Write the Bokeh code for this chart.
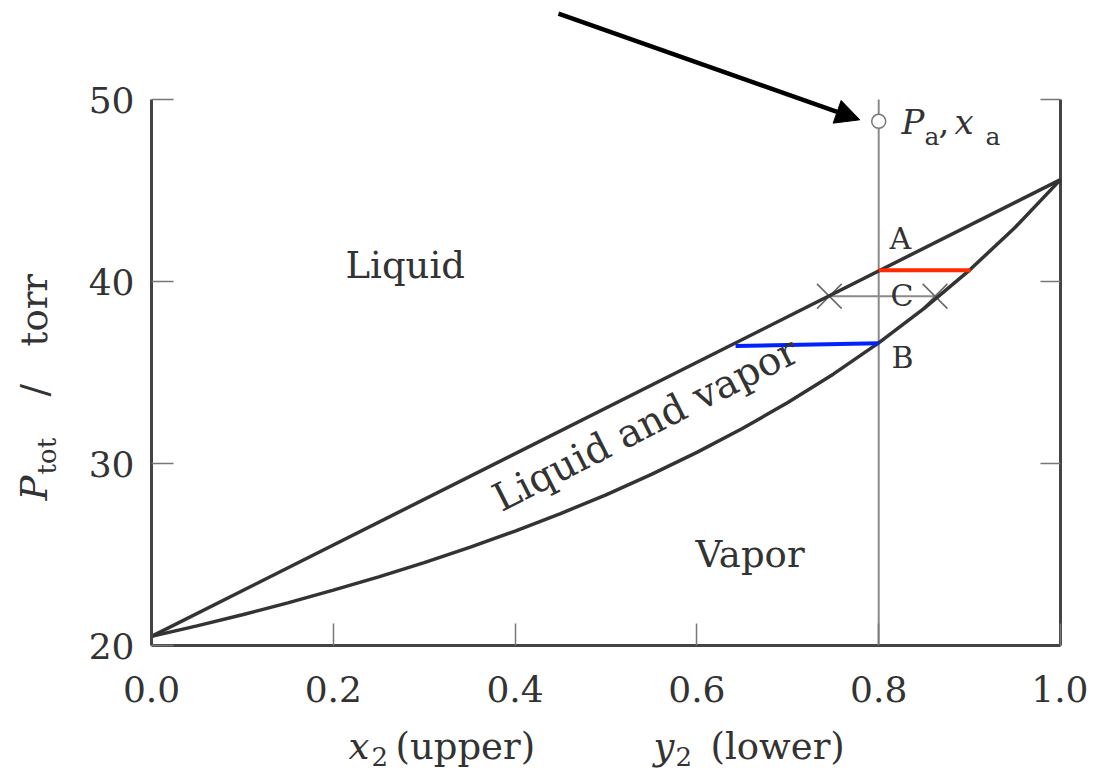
import math
from bokeh.plotting import figure
from bokeh.models import Range1d, FixedTicker, Label, Arrow, NormalHead, PrintfTickFormatter
from bokeh.embed import file_html
from bokeh.resources import INLINE

# ---------------- data ----------------
# liquid (bubble) line: P_tot vs x2
x_liquid = [0.0, 1.0]
p_liquid = [20.5, 45.6]
# vapor (dew) line: P_tot vs y2
y_vapor = [0.0, 0.05, 0.10, 0.15, 0.20, 0.25, 0.30, 0.35, 0.40, 0.45, 0.50,
           0.55, 0.60, 0.65, 0.70, 0.75, 0.80, 0.85, 0.90, 0.95, 1.0]
p_vapor = [20.5, 21.08, 21.69, 22.34, 23.04, 23.77, 24.55, 25.39, 26.29, 27.25, 28.28,
           29.40, 30.61, 31.92, 33.35, 34.91, 36.63, 38.52, 40.63, 42.97, 45.6]
# composition line and starting point a
x_a = [0.8]
p_a = [48.8]
vline_p = [20.0, 50.0]
# tie lines
tie_A_x = [0.8, 0.901]
tie_A_p = [40.62, 40.62]
tie_B_x = [0.6425, 0.8]
tie_B_p = [36.45, 36.61]
tie_C_x = [0.7457, 0.862]
tie_C_p = [39.19, 39.19]
# ticks
x_ticks = [0.0, 0.2, 0.4, 0.6, 0.8, 1.0]
y_ticks = [20, 30, 40, 50]
y_ticks_right = [30, 40, 50]
x_bounds = (0.0, 1.0)
y_bounds = (20, 50)

FONT = "DejaVu Serif"
TXT = "#333333"
CURVE = "#333333"
AXIS = "#444444"
TICK = "#777777"

X0, X1 = -0.16612, 1.03080
Y0, Y1 = 12.967, 55.44
W, H = 1088, 773
PX_X = W / (X1 - X0)   # pixels per x unit
PX_Y = H / (Y1 - Y0)   # pixels per y unit

# frame covers the whole canvas; axes are pinned with fixed_location
p = figure(width=W, height=H, title=None,
           x_range=Range1d(X0, X1), y_range=Range1d(Y0, Y1),
           output_backend="svg", toolbar_location=None, min_border=0)
p.grid.visible = False
p.outline_line_color = None
p.background_fill_color = "white"
p.border_fill_color = "white"

# bottom axis
xa = p.xaxis[0]
xa.fixed_location = y_bounds[0]
xa.bounds = x_bounds
xa.ticker = FixedTicker(ticks=x_ticks)
xa.formatter = PrintfTickFormatter(format="%.1f")
xa.axis_line_width = 3
xa.axis_line_color = AXIS
xa.major_tick_in = 22
xa.major_tick_out = 0
xa.major_tick_line_color = TICK
xa.major_tick_line_width = 1.5
xa.minor_tick_line_color = None
xa.major_label_text_font = FONT
xa.major_label_text_font_size = "36px"
xa.major_label_text_color = TXT
xa.major_label_standoff = 30

# left axis
ya = p.yaxis[0]
ya.fixed_location = x_bounds[0]
ya.bounds = y_bounds
ya.ticker = FixedTicker(ticks=y_ticks)
ya.formatter = PrintfTickFormatter(format="%d")
ya.axis_line_width = 3
ya.axis_line_color = AXIS
ya.major_tick_in = 22
ya.major_tick_out = 0
ya.major_tick_line_color = TICK
ya.major_tick_line_width = 1.5
ya.minor_tick_line_color = None
ya.major_label_text_font = FONT
ya.major_label_text_font_size = "36px"
ya.major_label_text_color = TXT
ya.major_label_standoff = 17

# right frame line and its inward ticks
p.line([x_bounds[1], x_bounds[1]], list(y_bounds), line_width=3, color=AXIS)
tick_len = 20 / PX_X
p.segment(x0=[x_bounds[1]] * len(y_ticks_right), y0=y_ticks_right,
          x1=[x_bounds[1] - tick_len] * len(y_ticks_right), y1=y_ticks_right,
          line_width=1.5, color=TICK)

# composition line at x = 0.8
p.line(x_a * 2, vline_p, line_width=2, color="#8a8a8a")

# tie line C with crosses
p.line(tie_C_x, tie_C_p, line_width=2, color="#8a8a8a")
p.scatter(tie_C_x, tie_C_p, marker="x", size=35, line_color="#666666", line_width=1.5)

# phase curves
p.line(x_liquid, p_liquid, line_width=3.5, color=CURVE)
p.line(y_vapor, p_vapor, line_width=3.5, color=CURVE)

# coloured tie lines
p.line(tie_A_x, tie_A_p, line_width=4, color="#ff2a00")
p.line(tie_B_x, tie_B_p, line_width=4, color="#0022ff")

# point a
p.scatter(x_a, p_a, marker="circle", size=14, fill_color="white",
          line_color="#777777", line_width=1.5)

# arrow pointing at a
p.add_layout(Arrow(end=NormalHead(size=24, fill_color="black", line_color="black"),
                   x_start=0.4477, y_start=54.72, x_end=0.7792, y_end=48.885,
                   line_width=4.5, line_color="black"))


def lab(x, y, t, size=37, style="normal", angle=0.0):
    # (x, y) is where the text baseline starts; compensate the label's own
    # vertical anchor offset (about 0.35 em below the requested point)
    d = 0.35 * size
    xs = x - d * math.sin(angle) / PX_X
    ys = y + d * math.cos(angle) / PX_Y
    p.add_layout(Label(x=xs, y=ys, text=t, text_font=FONT, text_font_size=f"{size}px",
                       text_font_style=style, text_color=TXT, angle=angle,
                       text_align="left", text_baseline="alphabetic"))


# region labels
lab(0.2134, 40.165, "Liquid")
lab(0.5985, 24.30, "Vapor")
lab(0.3850, 27.31, "Liquid and vapor", size=39, angle=0.47)
lab(0.8119, 41.81, "A", size=30)
lab(0.8130, 38.63, "C", size=30)
lab(0.8141, 35.27, "B", size=30)

# P_a, x_a
lab(0.8251, 48.13, "P", size=34, style="italic")
lab(0.8504, 47.47, "a", size=25)
lab(0.8658, 48.13, ",", size=34)
lab(0.8834, 48.13, "x", size=34, style="italic")
lab(0.9175, 47.47, "a", size=25)

# y axis title  P_tot / torr
rot = math.pi / 2
lab(-0.1144, 27.97, "P", style="italic", angle=rot)
lab(-0.1045, 29.40, "tot", size=26, angle=rot)
lab(-0.1144, 33.68, "/", angle=rot)
lab(-0.1144, 36.43, "torr", angle=rot)

# x axis title  x2 (upper)   y2 (lower)
lab(0.2167, 13.736, "x", style="italic")
lab(0.2420, 13.407, "2", size=26)
lab(0.2684, 13.736, "(upper)")
lab(0.5523, 13.736, "y", style="italic")
lab(0.5765, 13.407, "2", size=26)
lab(0.6150, 13.736, "(lower)")

open("out.html", "w").write(file_html(p, INLINE))
